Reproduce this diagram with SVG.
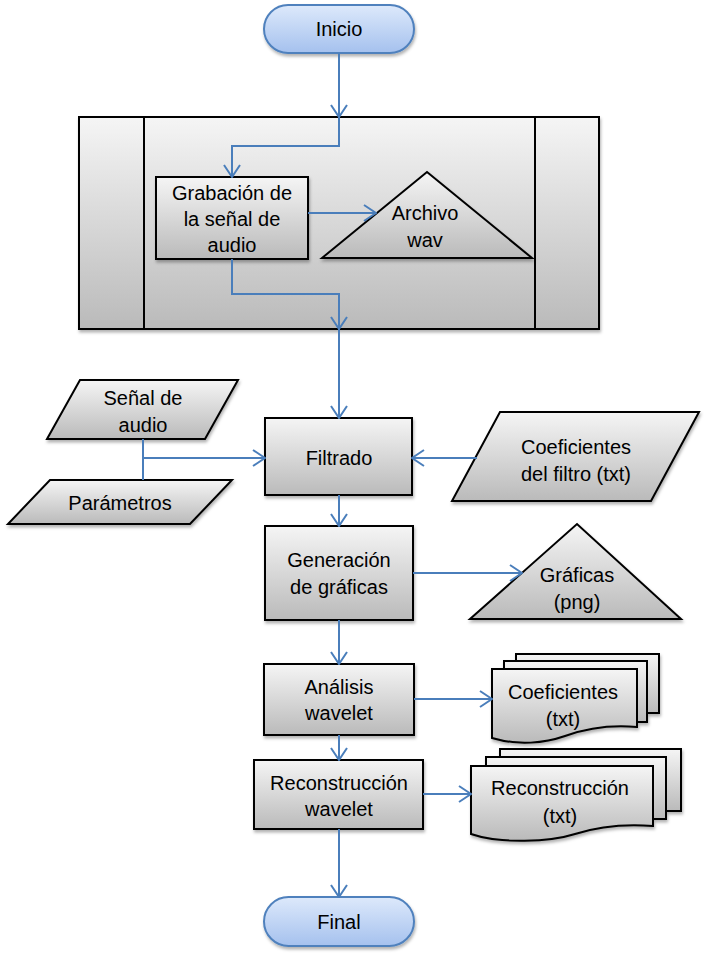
<svg xmlns="http://www.w3.org/2000/svg" width="708" height="958" viewBox="0 0 708 958">
<defs>
<linearGradient id="gray" x1="0" y1="0" x2="0" y2="1">
<stop offset="0" stop-color="#f5f5f5"/>
<stop offset="1" stop-color="#bababa"/>
</linearGradient>
<linearGradient id="blue" x1="0" y1="0" x2="0" y2="1">
<stop offset="0" stop-color="#dde9fb"/>
<stop offset="1" stop-color="#a5c1ee"/>
</linearGradient>
<filter id="sh" x="-10%" y="-10%" width="120%" height="130%">
<feDropShadow dx="1" dy="2.5" stdDeviation="1.5" flood-color="#000" flood-opacity="0.3"/>
</filter>
<marker id="arr" markerUnits="userSpaceOnUse" viewBox="0 0 14 18" refX="13" refY="9" markerWidth="14" markerHeight="18" orient="auto">
<path d="M1,1 L13,9 L1,17" fill="none" stroke="#4a7ebb" stroke-width="2"/>
</marker>
<style>
.shape{fill:url(#gray);stroke:#000;stroke-width:2;stroke-linejoin:miter}
.term{fill:url(#blue);stroke:#4f81bd;stroke-width:2}
.conn{fill:none;stroke:#4a7ebb;stroke-width:2}
.node{filter:url(#sh)}
text{font-family:"Liberation Sans",Arial,sans-serif;font-size:20px;fill:#000;text-anchor:middle;filter:none}
</style>
</defs>

<g id="subprocess">
<rect class="shape node" x="79" y="117" width="520" height="212"/>
<line x1="144" y1="117" x2="144" y2="329" stroke="#000" stroke-width="2"/>
<line x1="535" y1="117" x2="535" y2="329" stroke="#000" stroke-width="2"/>
</g>

<g id="inicio">
<rect class="term node" x="264" y="5" width="150" height="48" rx="24"/>
<text x="339" y="36">Inicio</text>
</g>

<g id="grabacion">
<rect class="shape node" x="156" y="177" width="152" height="82"/>
<text x="232" y="200">Grabación de</text>
<text x="232" y="226">la señal de</text>
<text x="232" y="252">audio</text>
</g>

<g id="archivo-wav">
<polygon class="shape node" points="322,258 427,172 532,258"/>
<text x="425" y="220">Archivo</text>
<text x="425" y="247">wav</text>
</g>

<g id="senal-audio">
<polygon class="shape node" points="80,380 238,380 205,439 47,439"/>
<text x="143" y="405">Señal de</text>
<text x="143" y="432">audio</text>
</g>

<g id="parametros">
<polygon class="shape node" points="50,480 232,480 190,524 8,524"/>
<text x="120" y="510">Parámetros</text>
</g>

<g id="filtrado">
<rect class="shape node" x="265" y="418" width="147" height="77"/>
<text x="339" y="465">Filtrado</text>
</g>

<g id="coef-filtro">
<polygon class="shape node" points="500,412 699,412 651,501 452,501"/>
<text x="576" y="454">Coeficientes</text>
<text x="576" y="481">del filtro (txt)</text>
</g>

<g id="generacion">
<rect class="shape node" x="265" y="526" width="148" height="94"/>
<text x="339" y="567">Generación</text>
<text x="339" y="594">de gráficas</text>
</g>

<g id="graficas">
<polygon class="shape node" points="470,619 577,524 681,619"/>
<text x="577" y="582">Gráficas</text>
<text x="577" y="609">(png)</text>
</g>

<g id="analisis">
<rect class="shape node" x="264" y="664" width="150" height="71"/>
<text x="339" y="694">Análisis</text>
<text x="339" y="720">wavelet</text>
</g>

<g id="coeficientes">
<g class="node">
<rect class="shape" x="516" y="654" width="143" height="59"/>
<rect class="shape" x="504" y="661" width="143" height="61"/>
<path class="shape" d="M492,669 H637 V727 C615,725 590,727 565,736 C545,743 518,746 492,738 Z"/>
</g>
<text x="563" y="699">Coeficientes</text>
<text x="563" y="726">(txt)</text>
</g>

<g id="reconstruccion">
<rect class="shape node" x="254" y="760" width="169" height="69"/>
<text x="339" y="790">Reconstrucción</text>
<text x="339" y="816">wavelet</text>
</g>

<g id="reconstruccion-txt">
<g class="node">
<rect class="shape" x="500" y="749" width="181" height="62"/>
<rect class="shape" x="486" y="757" width="180" height="62"/>
<path class="shape" d="M471,766 H653 V826 C628,824 600,826 575,834 C550,842 500,844 471,834 Z"/>
</g>
<text x="560" y="795">Reconstrucción</text>
<text x="560" y="823">(txt)</text>
</g>

<g id="final">
<rect class="term node" x="264" y="897" width="150" height="49" rx="24.5"/>
<text x="339" y="929">Final</text>
</g>

<g id="connectors">
<path class="conn" d="M339,53 V117" marker-end="url(#arr)"/>
<path class="conn" d="M339,117 V146 H232 V177" marker-end="url(#arr)"/>
<path class="conn" d="M308,213 H376" marker-end="url(#arr)"/>
<path class="conn" d="M232,259 V294 H339 V329" marker-end="url(#arr)"/>
<path class="conn" d="M339,329 V418" marker-end="url(#arr)"/>
<path class="conn" d="M143,439 V480"/>
<path class="conn" d="M143,458 H265" marker-end="url(#arr)"/>
<path class="conn" d="M477,458 H412" marker-end="url(#arr)"/>
<path class="conn" d="M339,495 V526" marker-end="url(#arr)"/>
<path class="conn" d="M413,573 H522" marker-end="url(#arr)"/>
<path class="conn" d="M339,620 V664" marker-end="url(#arr)"/>
<path class="conn" d="M414,699 H492" marker-end="url(#arr)"/>
<path class="conn" d="M339,735 V760" marker-end="url(#arr)"/>
<path class="conn" d="M423,794 H471" marker-end="url(#arr)"/>
<path class="conn" d="M339,829 V897" marker-end="url(#arr)"/>
</g>
</svg>
